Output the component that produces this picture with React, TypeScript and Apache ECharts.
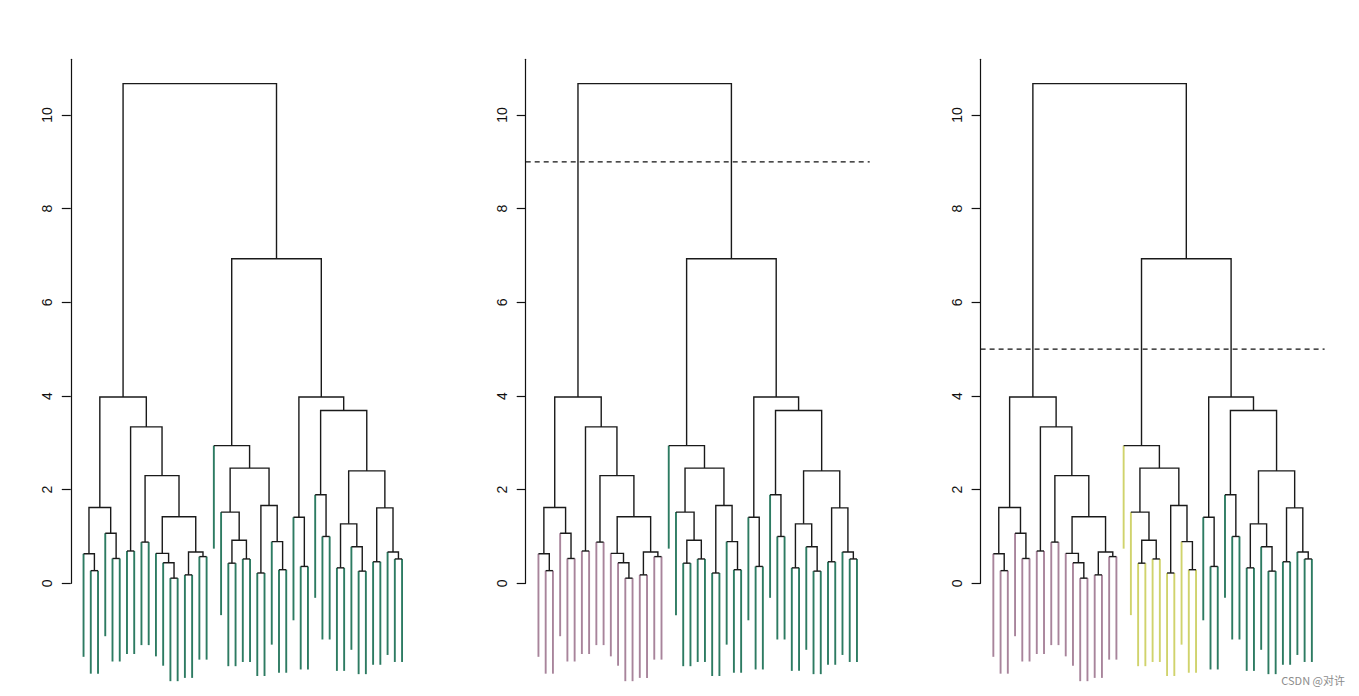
import React, { useEffect, useRef } from "react";
import * as echarts from "echarts";

// ---- Data: hierarchical clustering (R-style merge matrix, negative = leaf) ----
const leafCount = 45;
const mergeLeft = [
  -2, -1, -5, -4, 2, -7, -9, -13, -12, -11, -15, -17, 11, 10, 7, 6, 5,
  -21, -23, 18, -20, -25, -28, -27, 22, 21, -19,
  -31, -30, -34, -33, -36, -39, -38, 32, -41, -44, -43, 36, 35, 31, 29,
  27, 17,
];
const mergeRight = [
  -3, 1, -6, 3, 4, -8, -10, -14, 8, 9, -16, -18, 12, 13, 14, 15, 16,
  -22, -24, 19, 20, -26, -29, 23, 24, 25, 26,
  -32, 28, -35, 30, -37, -40, 33, 34, -42, -45, 37, 38, 39, 40, 41,
  42, 43,
];
const mergeHeight = [
  0.27, 0.63, 0.53, 1.07, 1.62, 0.69, 0.88, 0.11, 0.44, 0.64, 0.18, 0.57, 0.67, 1.42, 2.3, 3.34, 3.98,
  0.43, 0.52, 0.92, 1.52, 0.22, 0.29, 0.89, 1.66, 2.46, 2.94,
  0.36, 1.41, 1.0, 1.89, 0.33, 0.26, 0.78, 1.27, 0.46, 0.52, 0.67, 1.61, 2.4, 3.69, 3.98,
  6.93, 10.67,
];
const hangDepth = 2.2;
const cutHeights: (number | null)[] = [null, 9, 5];
const panelPalettes = [
  ["#2d7b62"],
  ["#a8849b", "#2d7b62"],
  ["#a8849b", "#d0d36c", "#2d7b62"],
];
const yTickInterval = 2;
const yMax = 11.19;
const xMin = -0.76;
const xMax = 46.76;

// ---- derived geometry (positions from leaf order) ----
const mergePos: number[] = [];
const refPos = (r: number) => (r < 0 ? -r : mergePos[r - 1]);
const refHeight = (r: number) => (r < 0 ? null : mergeHeight[r - 1]);
for (let i = 0; i < mergeHeight.length; i++) {
  mergePos.push((refPos(mergeLeft[i]) + refPos(mergeRight[i])) / 2);
}
const rootRef = mergeHeight.length;

function leavesUnder(r: number): number[] {
  if (r < 0) return [-r];
  return [...leavesUnder(mergeLeft[r - 1]), ...leavesUnder(mergeRight[r - 1])];
}
function clusterRoots(r: number, cut: number | null): number[] {
  if (cut === null) return [r];
  if (r > 0 && mergeHeight[r - 1] > cut) {
    return [...clusterRoots(mergeLeft[r - 1], cut), ...clusterRoots(mergeRight[r - 1], cut)];
  }
  return [r];
}

const branchData = mergeHeight.map((h, i) => {
  const l = mergeLeft[i];
  const r = mergeRight[i];
  const hl = refHeight(l);
  const hr = refHeight(r);
  return [refPos(l), hl === null ? h : hl, refPos(r), hr === null ? h : hr, h];
});

function leafData(cut: number | null) {
  const clusterOf: number[] = new Array(leafCount + 1).fill(0);
  clusterRoots(rootRef, cut).forEach((root, ci) => {
    leavesUnder(root).forEach((lf) => (clusterOf[lf] = ci));
  });
  const out: number[][] = [];
  mergeHeight.forEach((h, i) => {
    [mergeLeft[i], mergeRight[i]].forEach((c) => {
      if (c < 0) out.push([-c, h, h - hangDepth, clusterOf[-c]]);
    });
  });
  return out;
}

export default function App() {
  const ref = useRef<HTMLDivElement>(null);
  useEffect(() => {
    if (!ref.current) return;
    const chart = echarts.init(ref.current, null, { renderer: "svg" });
    const panelStep = 454.9;
    const grids: any[] = [];
    const xAxes: any[] = [];
    const yAxes: any[] = [];
    const series: any[] = [];
    for (let k = 0; k < 3; k++) {
      grids.push({
        left: 70.8 + k * panelStep,
        top: 59.3,
        width: 344,
        height: 524,
        containLabel: false,
        outerBoundsMode: "none",
      });
      xAxes.push({ type: "value", gridIndex: k, min: xMin, max: xMax, show: false });
      yAxes.push({
        type: "value",
        gridIndex: k,
        min: 0,
        max: yMax,
        interval: yTickInterval,
        splitLine: { show: false },
        axisLine: { show: true, onZero: false, lineStyle: { color: "#111", width: 1.2 } },
        axisTick: { show: true, length: 9, lineStyle: { color: "#111", width: 1.2 } },
        axisLabel: {
          rotate: 90,
          margin: 17,
          color: "#111",
          fontSize: 14,
          fontFamily: "Liberation Sans, Arial, sans-serif",
          showMaxLabel: false,
          formatter: (v: number) => (v % 2 === 0 && v <= 10 ? String(v) : ""),
        },
      });
      const palette = panelPalettes[k];
      series.push({
        type: "custom",
        xAxisIndex: k,
        yAxisIndex: k,
        data: leafData(cutHeights[k]),
        clip: false,
        silent: true,
        renderItem: (_p: any, api: any) => {
          const a = api.coord([api.value(0), api.value(1)]);
          const b = api.coord([api.value(0), api.value(2)]);
          return {
            type: "line",
            shape: { x1: a[0], y1: a[1], x2: b[0], y2: b[1] },
            style: { stroke: palette[api.value(3)], lineWidth: 1.9 },
          };
        },
      });
      series.push({
        type: "custom",
        xAxisIndex: k,
        yAxisIndex: k,
        data: branchData,
        clip: false,
        silent: true,
        renderItem: (_p: any, api: any) => {
          const pts = [
            api.coord([api.value(0), api.value(1)]),
            api.coord([api.value(0), api.value(4)]),
            api.coord([api.value(2), api.value(4)]),
            api.coord([api.value(2), api.value(3)]),
          ];
          return {
            type: "polyline",
            shape: { points: pts },
            style: { stroke: "#1a1a1a", lineWidth: 1.4, fill: null },
          };
        },
      });
      const cut = cutHeights[k];
      if (cut !== null) {
        series.push({
          type: "line",
          xAxisIndex: k,
          yAxisIndex: k,
          data: [
            [xMin, cut],
            [xMax, cut],
          ],
          symbol: "none",
          silent: true,
          lineStyle: { color: "#111", width: 1.3, type: [5, 4] },
        });
      }
    }
    chart.setOption({
      animation: false,
      backgroundColor: "#ffffff",
      grid: grids,
      xAxis: xAxes,
      yAxis: yAxes,
      series,
      graphic: [
        {
          type: "text",
          right: 14,
          top: 674,
          style: {
            text: "CSDN @对许",
            fill: "#8c8c8c",
            fontSize: 11,
            fontFamily: "Noto Sans CJK SC, sans-serif",
          },
        },
      ],
    });
    return () => chart.dispose();
  }, []);
  return (
    <div
      ref={ref}
      style={{ position: "absolute", left: 0, top: 0, width: 1359, height: 696 }}
    />
  );
}
